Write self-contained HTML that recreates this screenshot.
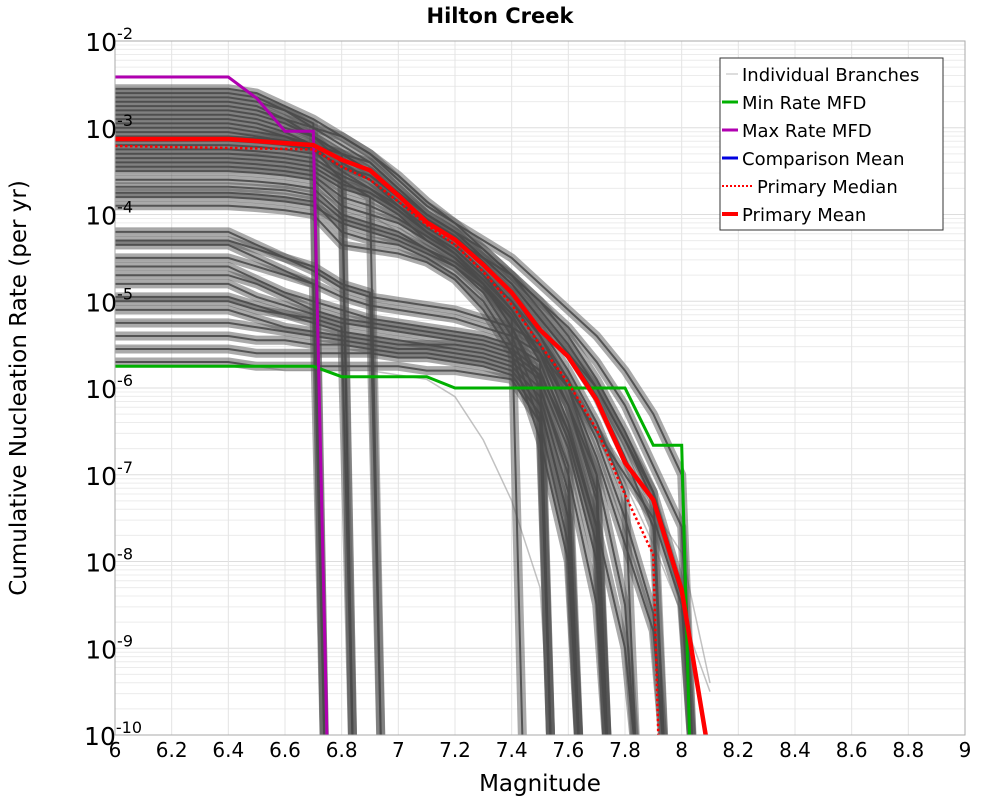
<!DOCTYPE html>
<html><head><meta charset="utf-8"><style>
html,body{margin:0;padding:0;background:#fff;}
svg{display:block;font-family:"Liberation Sans","DejaVu Sans",sans-serif;}
</style></head><body>
<svg id="chart" width="1000" height="800" viewBox="0 0 1000 800" xmlns="http://www.w3.org/2000/svg">
<text x="500" y="23" text-anchor="middle" font-size="21" font-weight="bold" font-family="DejaVu Sans, sans-serif">Hilton Creek</text>
<g id="grid"></g>
<g id="branches"></g>
<g id="series"></g>
<rect x="115" y="41" width="850" height="694" fill="none" stroke="#aaa" stroke-width="1"/>
<g id="axes"></g>
<text x="540" y="791" text-anchor="middle" font-size="23" font-family="DejaVu Sans, sans-serif">Magnitude</text>
<text transform="translate(26,388) rotate(-90)" text-anchor="middle" font-size="23" font-family="DejaVu Sans, sans-serif">Cumulative Nucleation Rate (per yr)</text>
<g id="legend" font-family="DejaVu Sans, sans-serif" font-size="18">
<rect x="720" y="58" width="223" height="172" fill="#fff" stroke="#333" stroke-width="1"/>
<g><line x1="726" y1="74" x2="738" y2="74" stroke="#bbb" stroke-width="1"/><text x="742" y="81">Individual Branches</text></g>
<g><line x1="722" y1="102" x2="738" y2="102" stroke="#00b000" stroke-width="3"/><text x="742" y="109">Min Rate MFD</text></g>
<g><line x1="722" y1="130" x2="738" y2="130" stroke="#b000b0" stroke-width="3"/><text x="742" y="137">Max Rate MFD</text></g>
<g><line x1="722" y1="158" x2="738" y2="158" stroke="#0000e0" stroke-width="3"/><text x="742" y="165">Comparison Mean</text></g>
<g><line x1="722" y1="186" x2="752" y2="186" stroke="#f00" stroke-width="2" stroke-dasharray="2,2"/><text x="757" y="193">Primary Median</text></g>
<g><line x1="722" y1="214" x2="738" y2="214" stroke="#f00" stroke-width="4"/><text x="742" y="221">Primary Mean</text></g>
</g>
</svg>
<script>
const xTicks=[6,6.2,6.4,6.6,6.8,7,7.2,7.4,7.6,7.8,8,8.2,8.4,8.6,8.8,9];
const yDecades=[-2,-3,-4,-5,-6,-7,-8,-9,-10];
const mags=[6.0,6.4,6.5,6.6,6.7,6.8,6.9,7.0,7.1,7.2,7.3,7.4,7.5,7.6,7.7,7.8,7.9,8.0,8.1];
const meanMags=[6.0,6.4,6.7,6.8,6.9,7.0,7.1,7.2,7.3,7.4,7.5,7.6,7.7,7.8,7.9,8.0,8.1];
const meanVals=[-3.13,-3.13,-3.2,-3.37,-3.49,-3.78,-4.09,-4.29,-4.58,-4.9,-5.33,-5.64,-6.14,-6.86,-7.29,-8.33,-10];
const medMags=[6.0,6.7,6.8,6.9,7.0,7.1,7.2,7.3,7.4,7.5,7.6,7.7,7.8,7.9,7.92];
const medVals=[-3.21,-3.25,-3.45,-3.6,-3.85,-4.12,-4.35,-4.66,-5.04,-5.5,-5.94,-6.48,-7.23,-7.92,-10];
const minMags=[6.0,6.7,6.8,7.1,7.2,7.8,7.9,8.0,8.03];
const minVals=[-5.75,-5.75,-5.87,-5.87,-6.0,-6.0,-6.66,-6.66,-10];
const maxMags=[6.0,6.4,6.5,6.6,6.7,6.75];
const maxVals=[-2.415,-2.415,-2.66,-3.04,-3.04,-10];
const branches=[
[-2.55,-2.55,-2.6,-2.75,-2.9,-3.1,-3.3,-3.6,-3.9,-4.1,-4.3,-4.5,-4.8,-5.1,-5.4,-5.8,-6.3,-7,-10],
[-2.6,-2.6,-2.65,-2.8,-3.0,-3.2,-3.4,-3.7,-4.0,-4.2,-4.4,-4.7,-5.0,-5.4,-5.9,-6.5,-7.2,-10,-10],
[-2.65,-2.65,-2.7,-2.8,-2.95,-10,-10,-10,-10,-10,-10,-10,-10,-10,-10,-10,-10,-10,-10],
[-2.7,-2.7,-2.75,-2.9,-3.1,-3.3,-3.5,-3.8,-4.1,-4.3,-4.6,-4.9,-5.3,-5.8,-6.4,-7.2,-10,-10,-10],
[-2.75,-2.75,-2.8,-2.9,-3.0,-3.1,-3.3,-3.55,-3.85,-4.1,-4.4,-4.7,-5.1,-5.5,-6.0,-6.6,-7.3,-8.4,-10],
[-2.8,-2.8,-2.85,-2.95,-3.1,-3.4,-3.6,-3.9,-4.2,-4.4,-4.7,-5.1,-5.6,-6.2,-7.0,-10,-10,-10,-10],
[-2.85,-2.85,-2.9,-3.0,-3.1,-3.3,-10,-10,-10,-10,-10,-10,-10,-10,-10,-10,-10,-10,-10],
[-2.9,-2.9,-2.95,-3.05,-3.2,-3.5,-3.7,-3.95,-4.2,-4.45,-4.8,-5.3,-5.9,-10,-10,-10,-10,-10,-10],
[-2.95,-2.95,-3.0,-3.1,-3.25,-3.45,-3.6,-3.85,-4.1,-4.3,-4.5,-4.7,-5.0,-5.3,-5.7,-6.2,-6.9,-7.6,-10],
[-3.0,-3.0,-3.05,-3.1,-3.2,-3.3,-3.5,-3.75,-4.0,-4.2,-4.5,-4.8,-5.2,-5.6,-6.1,-6.8,-7.6,-10,-10],
[-3.05,-3.05,-3.1,-3.15,-3.25,-3.6,-3.8,-4.0,-4.3,-4.5,-4.8,-5.2,-10,-10,-10,-10,-10,-10,-10],
[-3.1,-3.1,-3.12,-3.15,-3.2,-3.3,-3.4,-3.7,-4.0,-4.2,-4.5,-4.8,-5.2,-5.6,-6.0,-6.6,-7.2,-8.3,-10],
[-3.15,-3.15,-3.17,-3.2,-3.25,-3.45,-3.55,-3.8,-4.05,-4.25,-4.55,-4.9,-5.4,-6.0,-6.8,-7.8,-8.8,-10,-10],
[-3.2,-3.2,-3.22,-3.25,-3.3,-10,-10,-10,-10,-10,-10,-10,-10,-10,-10,-10,-10,-10,-10],
[-3.25,-3.25,-3.27,-3.3,-3.35,-3.55,-3.7,-3.9,-4.15,-4.35,-4.65,-5.0,-5.5,-6.2,-7.2,-10,-10,-10,-10],
[-3.3,-3.3,-3.32,-3.35,-3.4,-3.6,-10,-10,-10,-10,-10,-10,-10,-10,-10,-10,-10,-10,-10],
[-3.35,-3.35,-3.37,-3.4,-3.45,-3.65,-3.75,-3.95,-4.2,-4.4,-4.7,-5.0,-5.4,-5.9,-6.6,-7.5,-8.6,-10,-10],
[-3.4,-3.4,-3.42,-3.45,-3.5,-3.7,-3.8,-10,-10,-10,-10,-10,-10,-10,-10,-10,-10,-10,-10],
[-3.45,-3.45,-3.47,-3.5,-3.55,-3.8,-3.9,-4.05,-4.25,-4.45,-4.75,-5.1,-5.6,-6.4,-7.6,-10,-10,-10,-10],
[-3.5,-3.5,-3.52,-3.55,-3.6,-3.9,-4.0,-4.1,-4.3,-4.5,-4.8,-5.3,-6.0,-7.0,-8.5,-10,-10,-10,-10],
[-3.6,-3.6,-3.62,-3.65,-3.7,-4.0,-4.1,-4.2,-4.4,-4.6,-4.9,-5.4,-6.2,-7.5,-10,-10,-10,-10,-10],
[-3.68,-3.68,-3.7,-3.72,-3.78,-4.05,-4.15,-4.25,-4.4,-4.55,-4.8,-5.15,-5.7,-6.5,-7.6,-9.0,-10,-10,-10],
[-3.75,-3.75,-3.77,-3.8,-3.85,-4.2,-4.3,-4.35,-4.5,-4.7,-5.0,-5.5,-6.4,-10,-10,-10,-10,-10,-10],
[-3.8,-3.8,-3.82,-3.85,-3.9,-4.1,-4.2,-4.3,-4.45,-4.6,-4.85,-5.2,-5.6,-6.0,-6.5,-7.0,-7.5,-8.5,-10],
[-3.9,-3.9,-3.92,-3.95,-4.0,-4.35,-4.4,-4.45,-4.55,-4.75,-5.1,-5.6,-6.6,-8.0,-10,-10,-10,-10,-10],
[-4.2,-4.2,-4.35,-4.5,-4.65,-4.85,-4.95,-5.0,-5.05,-5.1,-5.2,-5.3,-5.5,-6.0,-7.0,-8.5,-10,-10,-10],
[-4.3,-4.3,-4.4,-4.5,-4.6,-4.8,-4.9,-10,-10,-10,-10,-10,-10,-10,-10,-10,-10,-10,-10],
[-4.35,-4.35,-4.5,-4.65,-4.8,-4.95,-5.05,-5.1,-5.15,-5.2,-5.3,-5.4,-5.6,-6.2,-7.3,-10,-10,-10,-10],
[-4.5,-4.5,-4.6,-4.7,-4.8,-10,-10,-10,-10,-10,-10,-10,-10,-10,-10,-10,-10,-10,-10],
[-4.6,-4.6,-4.75,-4.9,-5.0,-5.1,-5.2,-5.25,-5.3,-5.35,-5.4,-5.5,-5.7,-10,-10,-10,-10,-10,-10],
[-4.7,-4.7,-4.8,-4.95,-5.1,-5.2,-5.25,-5.3,-5.35,-5.4,-5.45,-5.55,-5.8,-6.6,-7.8,-10,-10,-10,-10],
[-4.8,-4.8,-4.95,-5.05,-5.15,-5.25,-5.3,-5.35,-5.4,-5.45,-5.5,-5.6,-5.85,-6.5,-7.6,-10,-10,-10,-10],
[-4.95,-4.95,-5.05,-5.15,-5.25,-5.35,-5.4,-5.45,-5.5,-5.5,-5.55,-5.65,-5.9,-6.7,-8.0,-10,-10,-10,-10],
[-5.0,-5.0,-5.1,-5.15,-5.2,-5.3,-10,-10,-10,-10,-10,-10,-10,-10,-10,-10,-10,-10,-10],
[-5.1,-5.1,-5.2,-5.3,-5.35,-5.4,-5.45,-5.5,-5.5,-5.55,-5.6,-5.7,-6.0,-6.9,-10,-10,-10,-10,-10],
[-5.25,-5.25,-5.3,-5.35,-5.4,-5.45,-5.5,-5.55,-5.55,-5.6,-5.65,-5.75,-6.1,-7.2,-10,-10,-10,-10,-10],
[-5.4,-5.4,-5.45,-5.45,-5.5,-5.5,-5.55,-5.6,-5.6,-5.65,-5.7,-5.8,-6.2,-7.5,-10,-10,-10,-10,-10],
[-5.55,-5.55,-5.6,-5.6,-5.6,-5.6,-5.6,-5.65,-5.65,-5.7,-5.75,-5.85,-6.3,-10,-10,-10,-10,-10,-10],
[-5.7,-5.7,-5.75,-5.75,-5.75,-5.75,-5.75,-5.75,-5.8,-5.8,-5.85,-5.9,-6.4,-7.8,-10,-10,-10,-10,-10]
];
const lightBranches=[
[-3.3,-3.3,-3.3,-3.35,-3.4,-3.6,-3.7,-3.9,-4.1,-4.3,-4.5,-4.8,-5.1,-5.5,-6.0,-6.8,-7.4,-7.9,-9.4],
[-5.7,-5.7,-5.75,-5.8,-5.8,-5.8,-5.8,-5.85,-5.9,-6.1,-6.6,-7.3,-8.3,-10,-10,-10,-10,-10,-10],
[-3.6,-3.6,-3.62,-3.65,-3.7,-3.9,-4.0,-4.2,-4.4,-4.6,-4.9,-5.2,-5.5,-5.9,-6.4,-7.1,-7.8,-8.6,-9.5]
];
const NS='http://www.w3.org/2000/svg';
const X0=115,X1=965,Y0=41,Y1=735;
function xs(m){return X0+(m-6)/3*(X1-X0);}
function ys(l){return Y0+(-2-l)/8*(Y1-Y0);}
function mk(tag,attrs,parent){const e=document.createElementNS(NS,tag);for(const k in attrs)e.setAttribute(k,attrs[k]);parent.appendChild(e);return e;}
const grid=document.getElementById('grid');
yDecades.forEach(d=>{
  for(let k=1;k<10;k++){
    const y=ys(d+Math.log10(k));
    if(y<Y0-0.5||y>Y1+0.5)continue;
    const ln=mk('line',{x1:X0,x2:X1,y1:y,y2:y,stroke:k===1?'#ddd':'#ececec','stroke-width':1},grid);
    
    
  }
});
xTicks.forEach(t=>{
  const x=xs(t);
  const ln=mk('line',{x1:x,x2:x,y1:Y0,y2:Y1,stroke:'#e4e4e4','stroke-width':1},grid);
  
  
});
// exact: final -10 point is drawn at its own magnitude; otherwise drop just after previous point
function pathFrom(ms,vs,exact){
  let d='';let prev=null;
  for(let i=0;i<ms.length;i++){
    let m=ms[i],v=vs[i];
    if(v<=-10){
      if(prev!==null){const xm=exact?m:prev+0.04;d+=' L'+xs(xm).toFixed(1)+','+ys(-10.3).toFixed(1);}
      break;
    }
    d+=(d?' L':'M')+xs(m).toFixed(1)+','+ys(v).toFixed(1);prev=m;
  }
  return d;
}
const bg=document.getElementById('branches');
const bclip=mk('clipPath',{id:'bc'},bg);mk('rect',{x:X0,y:Y0,width:X1-X0,height:Y1-Y0},bclip);
const bInner=mk('g',{'clip-path':'url(#bc)'},bg);
lightBranches.forEach(b=>{
  const p=mk('path',{d:pathFrom(mags,b,false),fill:'none',stroke:'#999','stroke-width':1.5,'stroke-opacity':0.6},bInner);
  
  
});
branches.forEach(b=>{
  const p=mk('path',{d:pathFrom(mags,b,false),fill:'none',stroke:'#555','stroke-width':9,'stroke-opacity':0.5,'stroke-linejoin':'round'},bInner);
  
  
});
branches.forEach(b=>{
  const p=mk('path',{d:pathFrom(mags,b,false),fill:'none',stroke:'#4a4a4a','stroke-width':2,'stroke-opacity':0.9},bInner);
  
  
});
const sg=document.getElementById('series');
const clip=mk('clipPath',{id:'pc'},sg);mk('rect',{x:X0,y:Y0,width:X1-X0,height:Y1-Y0},clip);
const sInner=mk('g',{'clip-path':'url(#pc)'},sg);
const s1=mk('path',{d:pathFrom(minMags,minVals,true),fill:'none',stroke:'#00b000','stroke-width':3},sInner);


const s2=mk('path',{d:pathFrom(maxMags,maxVals,true),fill:'none',stroke:'#b000b0','stroke-width':3},sInner);


const s3=mk('path',{d:pathFrom(medMags,medVals,true),fill:'none',stroke:'#f00','stroke-width':2.5,'stroke-dasharray':'2.5,2.5'},sInner);


const s4=mk('path',{d:pathFrom(meanMags,meanVals,true),fill:'none',stroke:'#f00','stroke-width':4.5,'stroke-linejoin':'round'},sInner);


const ax=document.getElementById('axes');
xTicks.forEach(t=>{
  const tx=mk('text',{x:xs(t),y:757,'text-anchor':'middle','font-size':20,'font-family':'DejaVu Sans, sans-serif'},ax);
  tx.textContent=String(t);
  
  
});
yDecades.forEach(d=>{
  const y=ys(d);
  const tx=mk('text',{x:105,y:y+10,'text-anchor':'end','font-size':25,'font-family':'DejaVu Sans, sans-serif'},ax);
  
  
  const base=document.createElementNS(NS,'tspan');base.textContent='10';tx.appendChild(base);
  const sup=document.createElementNS(NS,'tspan');sup.setAttribute('dy','-12');sup.setAttribute('font-size','16');sup.textContent=String(d);tx.appendChild(sup);
  tx.setAttribute('x',115+String(d).length*9);
});
</script>
</body></html>
